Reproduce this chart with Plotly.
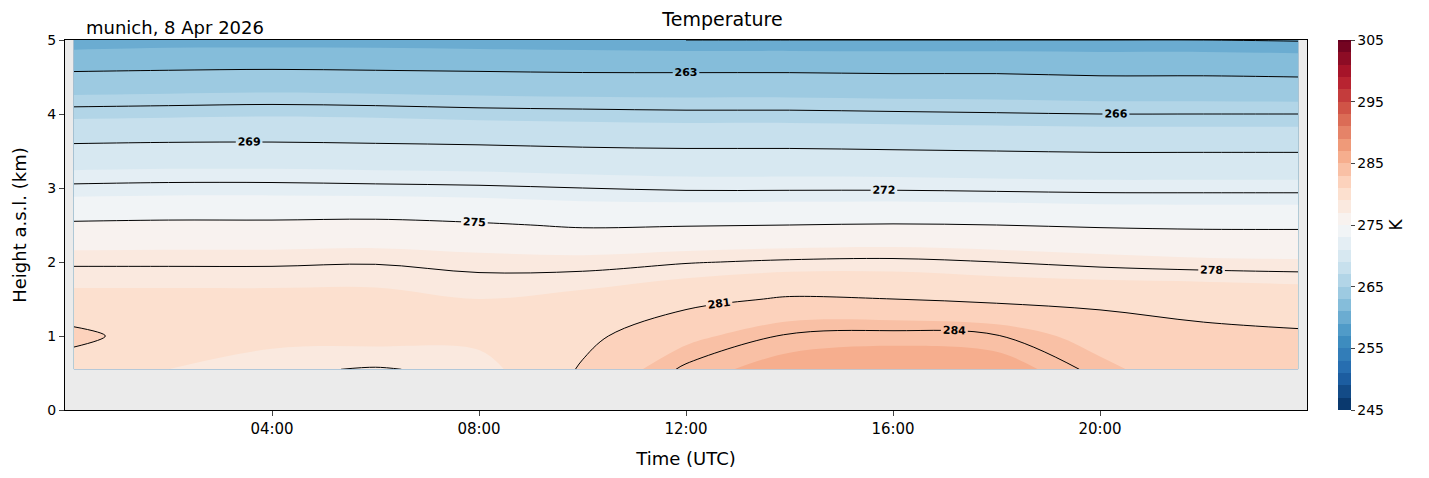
import plotly.graph_objects as go

# hours UTC, km a.s.l., K
times = [0.17, 2, 4, 6, 8, 10, 12, 14, 16, 18, 20, 22, 23.83]
heights = [0.55, 1.0, 1.5, 2.0, 2.5, 3.0, 3.5, 4.0, 4.5, 5.0]
temp = [
    [280.0, 279.0, 278.2, 277.9, 278.3, 281.2, 284.3, 285.8, 286.2, 286.0, 283.5, 281.5, 281.0],
    [281.5, 280.0, 279.5, 279.5, 279.5, 280.5, 282.5, 284.2, 284.5, 284.1, 282.2, 281.3, 281.2],
    [279.5, 279.5, 279.5, 279.5, 279.0, 279.5, 280.4, 281.2, 281.0, 280.6, 280.5, 280.5, 280.2],
    [277.8, 277.8, 277.8, 277.9, 277.6, 277.5, 277.9, 278.2, 278.3, 278.0, 277.6, 277.3, 277.2],
    [275.3, 275.4, 275.4, 275.5, 275.2, 274.8, 274.9, 275.0, 275.1, 275.0, 274.8, 274.7, 274.7],
    [272.3, 272.4, 272.4, 272.3, 272.2, 272.0, 271.8, 271.8, 271.8, 271.7, 271.6, 271.6, 271.6],
    [269.6, 269.7, 269.7, 269.6, 269.5, 269.3, 269.2, 269.2, 269.1, 269.0, 268.9, 268.9, 268.9],
    [266.6, 266.7, 266.8, 266.7, 266.5, 266.4, 266.3, 266.3, 266.2, 266.1, 266.0, 266.0, 266.0],
    [263.5, 263.6, 263.7, 263.6, 263.5, 263.4, 263.4, 263.4, 263.3, 263.3, 263.1, 263.1, 263.0],
    [260.1, 260.3, 260.3, 260.3, 260.2, 260.1, 260.0, 260.0, 260.0, 260.0, 260.0, 260.0, 259.9],
]
tick_hours = [4, 8, 12, 16, 20]
tick_labels = ["04:00", "08:00", "12:00", "16:00", "20:00"]

# matplotlib RdBu_r
rdbu_r = ["#053061", "#2166ac", "#4393c3", "#92c5de", "#d1e5f0", "#f7f7f7",
          "#fddbc7", "#f4a582", "#d6604d", "#b2182b", "#67001f"]
cscale = [[i / 10, c] for i, c in enumerate(rdbu_r)]

fig = go.Figure()
fig.add_trace(go.Contour(
    x=times, y=heights, z=temp, zmin=245, zmax=305,
    colorscale=cscale,
    contours=dict(start=245, end=305, size=2, coloring="fill"),
    line=dict(width=0),
    colorbar=dict(x=1.017, xanchor="left", thickness=13, len=1.0, y=0.5, ypad=0,
                  tickvals=[245, 255, 265, 275, 285, 295, 305],
                  outlinewidth=0, ticks="outside", ticklen=4,
                  title=dict(text="K", side="right", font=dict(size=17)),
                  tickfont=dict(size=14)),
))
fig.add_trace(go.Contour(
    x=times, y=heights, z=temp, showscale=False,
    colorscale=[[0, "black"], [1, "black"]],
    contours=dict(start=260, end=290, size=3, coloring="lines", showlabels=True,
                  labelfont=dict(size=11, color="black", family="DejaVu Sans", weight="bold")),
    line=dict(width=1, color="black"),
    hoverinfo="skip",
))

fig.update_layout(
    width=1429, height=478,
    margin=dict(l=54, r=130, t=32, b=76),
    plot_bgcolor="#ebebeb", paper_bgcolor="white",
    font=dict(family="DejaVu Sans", size=13, color="black"),
    title=dict(text="Temperature", x=0.5, xanchor="center", y=0.99, yanchor="top",
               font=dict(size=19)),
    annotations=[dict(text="munich, 8 Apr 2026", xref="paper", yref="paper",
                      x=0.015, y=1.0, xanchor="left", yanchor="bottom",
                      showarrow=False, font=dict(size=18))],
)
fig.update_xaxes(range=[0, 24], tickvals=tick_hours, ticktext=tick_labels,
                 title=dict(text="Time (UTC)", font=dict(size=18)), tickfont=dict(size=15),
                 showgrid=False, zeroline=False, showline=True, mirror=True,
                 linecolor="black", ticks="outside")
fig.update_yaxes(range=[0, 5], dtick=1, tickfont=dict(size=14),
                 title=dict(text="Height a.s.l. (km)", font=dict(size=18)),
                 showgrid=False, zeroline=False, showline=True, mirror=True,
                 linecolor="black", ticks="outside")

fig.write_html("out.html")
